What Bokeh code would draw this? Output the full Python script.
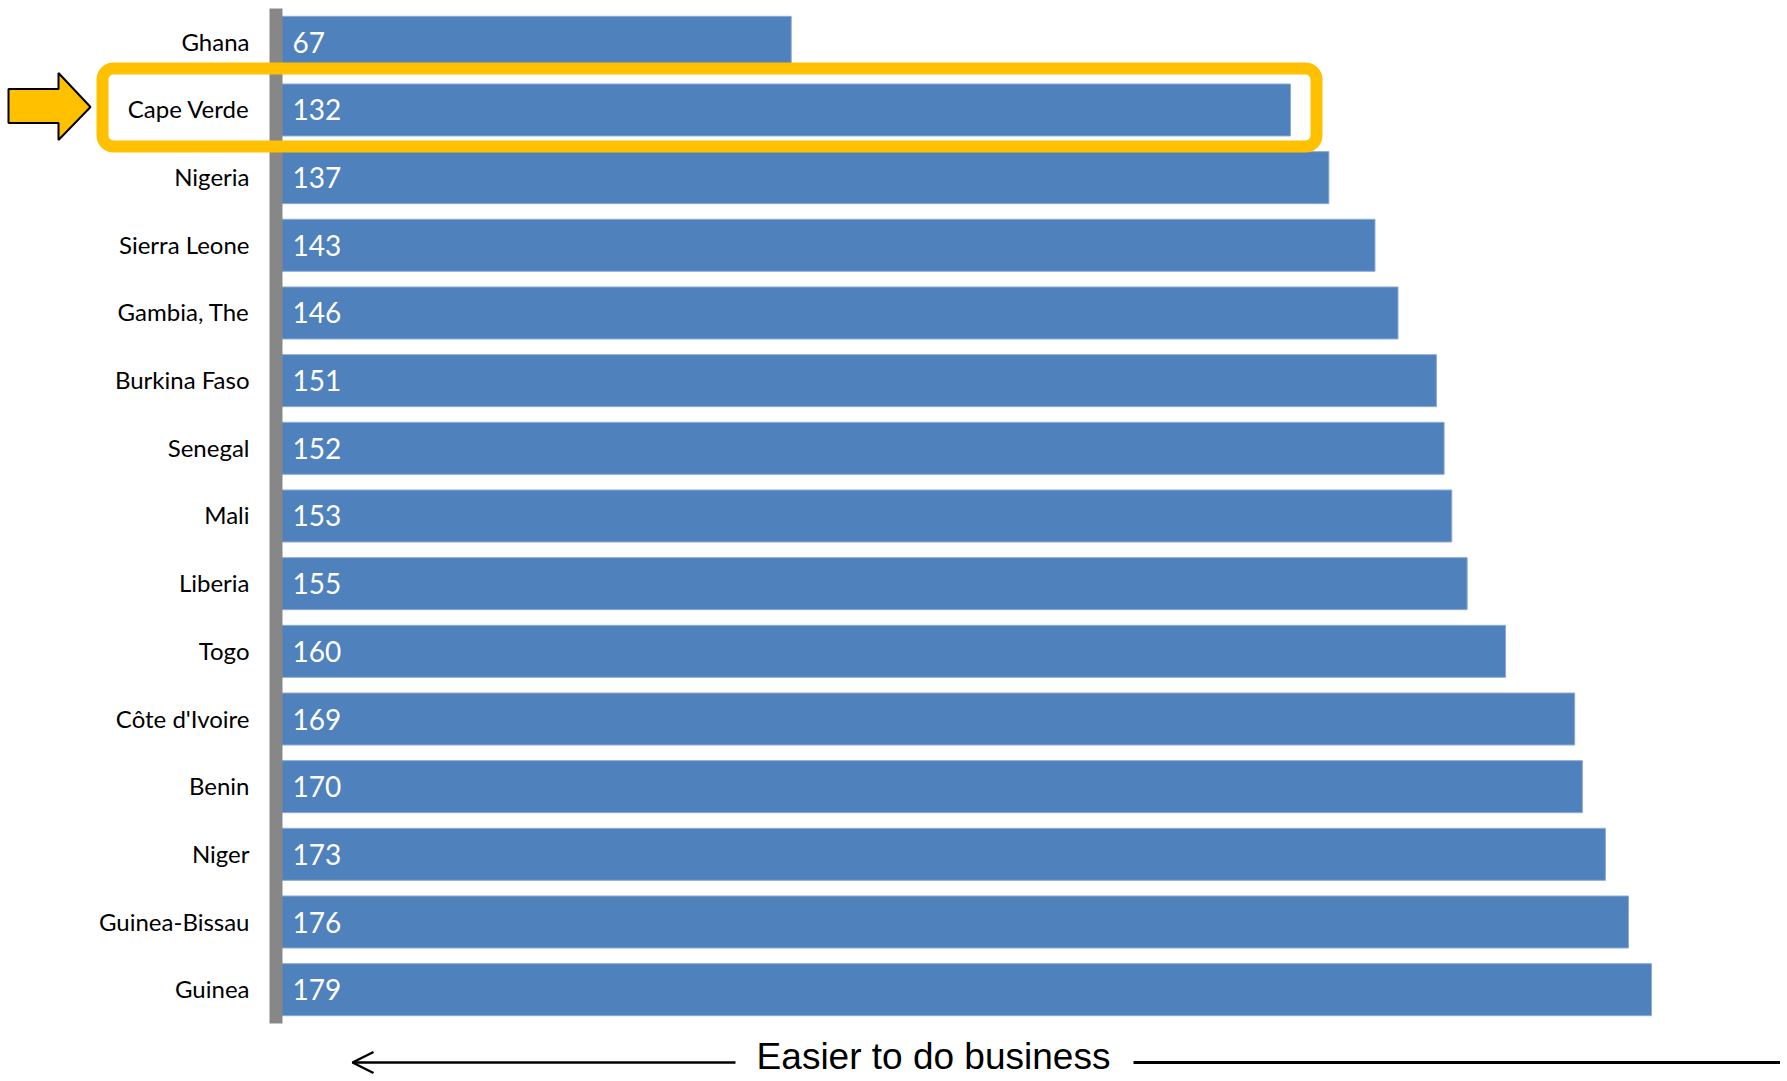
import numpy as np
from bokeh.plotting import figure
from bokeh.models import ColumnDataSource, Range1d, BoxAnnotation, Arrow, OpenHead
from bokeh.core.properties import value
from bokeh.embed import file_html
from bokeh.resources import INLINE

# ---- data ----
countries = ["Ghana", "Cape Verde", "Nigeria", "Sierra Leone", "Gambia, The",
             "Burkina Faso", "Senegal", "Mali", "Liberia", "Togo",
             "Côte d'Ivoire", "Benin", "Niger", "Guinea-Bissau", "Guinea"]
ranks = [67, 132, 137, 143, 146, 151, 152, 153, 155, 160, 169, 170, 173, 176, 179]
highlight = "Cape Verde"
footer = "Easier to do business"

# ---- layout constants (page pixels) ----
W, H = 1780, 1079
LEFT, TOP = 0, 0
X0, KX = 276.1, 7.681      # page px of value 0, px per rank unit
Y0, KY = 41.8, 67.67       # page px of first category centre, px per category

def px2x(px):
    return (px - X0) / KX

def py2y(py):
    return (py - Y0) / KY

BAR_BLUE = "#4F81BD"
GOLD = "#FFC000"

src = ColumnDataSource(dict(
    country=countries,
    rank=ranks,
    idx=np.arange(len(countries)),
    label=[str(r) for r in ranks],
))

p = figure(width=W, height=H, output_backend="svg", toolbar_location=None,
           x_range=Range1d(px2x(LEFT), px2x(LEFT + W)),
           y_range=Range1d(py2y(TOP + H), py2y(TOP)),
           min_border=0, x_axis_location=None, y_axis_location=None)
p.outline_line_color = None
p.grid.visible = False
p.background_fill_color = "white"
p.border_fill_color = "white"

# bars
p.hbar(y="idx", left=0, right="rank", height=52 / KY, source=src,
       fill_color=BAR_BLUE, line_color="#8DAAD4", line_width=1)

# grey axis bar
p.quad(left=px2x(269), right=px2x(282), top=py2y(8), bottom=py2y(1023),
       fill_color="#878787", line_color=None)

# value labels
p.text(x=px2x(292), y="idx", text="label", source=src,
       text_font=value("Lato"), text_font_size="28px", text_color="white",
       text_align="left", text_baseline="middle")

# category labels
p.text(x=px2x(249), y="idx", text="country", source=src,
       text_font=value("Lato"), text_font_size="24px", text_color="black",
       text_align="right", text_baseline="middle", y_offset=-1)

# highlight box around Cape Verde
hi = countries.index(highlight)
box = BoxAnnotation(left=px2x(102), right=px2x(1316),
                    top=hi + py2y(68) - py2y(Y0 + KY),
                    bottom=hi + py2y(146) - py2y(Y0 + KY),
                    fill_color=None, fill_alpha=0,
                    line_color=GOLD, line_alpha=1.0, line_width=12,
                    border_radius=11)
p.add_layout(box)

# block arrow pointing at the highlighted label
ay = Y0 + KY * hi
arrow_px = [(8, ay - 21), (58, ay - 21), (58, ay - 37), (90, ay - 3),
            (58, ay + 30), (58, ay + 13), (8, ay + 13)]
p.patch([px2x(a) for a, b in arrow_px], [py2y(b) for a, b in arrow_px],
        fill_color=GOLD, line_color="black", line_width=2)

# footer arrow and text
fy = py2y(1062)
p.add_layout(Arrow(x_start=px2x(735), y_start=fy, x_end=px2x(352), y_end=fy,
                   line_width=2.5, line_color="black",
                   end=OpenHead(size=21, line_width=2.5, line_color="black"),
                   start=None))
p.segment(x0=[px2x(1133)], y0=[fy], x1=[px2x(1800)], y1=[fy],
          line_width=3, line_color="black")
p.text(x=[px2x(933)], y=[py2y(1056)], text=[footer],
       text_font=value("Liberation Sans"), text_font_size="37px",
       text_color="black", text_align="center", text_baseline="middle")

open("out.html", "w").write(file_html(p, INLINE))
